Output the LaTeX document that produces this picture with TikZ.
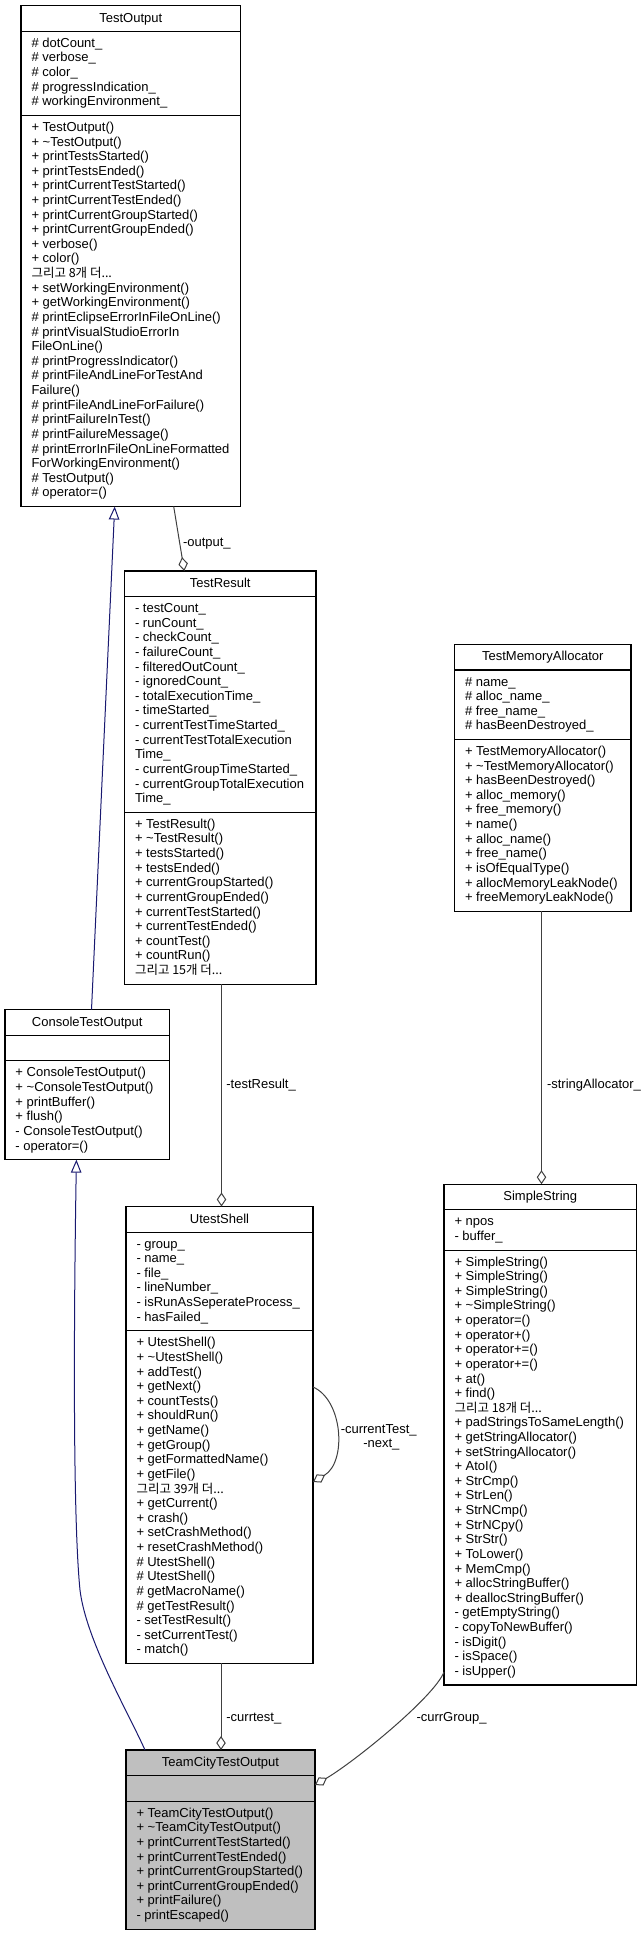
\documentclass[tikz,border=0pt]{standalone}
\usepackage{fontspec}
\setmainfont{Liberation Sans}
\newfontfamily\kr{Noto Sans CJK KR}
\usetikzlibrary{arrows.meta,calc}
\definecolor{edgegray}{HTML}{404040}
\definecolor{inhblue}{HTML}{191970}
\definecolor{hilite}{HTML}{BFBFBF}
\newcommand\more[1]{{\kr\fontsize{12.5}{14.62}\selectfont 그리고 #1개 더...}}
\newcommand\Lsk{14.62}
\newcommand\textlines[4]{\foreach \t [count=\i from 0] in {#4} {\node[txt] (#1-\i) at (#2,{#3+\i*\Lsk}) {\t};}}
\newcommand\umlbox[6]{%
  \node[box,#6,minimum width={#3-#2},minimum height=#5,anchor=north west] (#1) at (#2,#4) {};}
\newcommand\sepline[2]{\draw[sepl] ($(#1.north west)+(0,#2)$) -- ($(#1.north east)+(0,#2)$);}
\begin{document}
\begin{tikzpicture}[x=1pt,y=-1pt,
  txt/.style={anchor=base west,inner sep=0,outer sep=0,font=\fontsize{13}{14.62}\selectfont},
  ttl/.style={anchor=base,inner sep=0,outer sep=0,font=\fontsize{13}{14.62}\selectfont},
  box/.style={draw=black,line width=1.1pt,inner sep=0,outer sep=0,fill=white},
  sepl/.style={draw=black,line width=1.1pt},
  agg/.style={draw=edgegray,line width=1pt,-{Diamond[fill=white,length=14pt,width=9.5pt]}},
  inh/.style={draw=inhblue,line width=1pt,-{Triangle[fill=white,length=13pt,width=10.5pt]}}]
\useasboundingbox (0,0) rectangle (641,1935);

% ---------- TestOutput
\umlbox{TestOutput}{21}{240.5}{5.7}{500.82}{}
\sepline{TestOutput}{25.6}
\sepline{TestOutput}{109.7}
\node[ttl] (TestOutput-t) at (130.75,22.2) {TestOutput};
\textlines{TestOutput-a}{31.5}{47.3}{\# dotCount\_,\# verbose\_,\# color\_,\# progressIndication\_,\# workingEnvironment\_}
\textlines{TestOutput-m}{31.5}{131.4}{+ TestOutput(),+ \textasciitilde TestOutput(),+ printTestsStarted(),+ printTestsEnded(),+ printCurrentTestStarted(),+ printCurrentTestEnded(),+ printCurrentGroupStarted(),+ printCurrentGroupEnded(),+ verbose(),+ color(),\more{8},+ setWorkingEnvironment(),+ getWorkingEnvironment(),\# printEclipseErrorInFileOnLine(),\# printVisualStudioErrorIn,FileOnLine(),\# printProgressIndicator(),\# printFileAndLineForTestAnd,Failure(),\# printFileAndLineForFailure(),\# printFailureInTest(),\# printFailureMessage(),\# printErrorInFileOnLineFormatted,ForWorkingEnvironment(),\# TestOutput(),\# operator=()}

% ---------- TestResult
\umlbox{TestResult}{124.5}{316}{571}{413.1}{}
\sepline{TestResult}{25.6}
\sepline{TestResult}{241.28}
\node[ttl] (TestResult-t) at (220.25,587.5) {TestResult};
\textlines{TestResult-a}{135}{612.6}{- testCount\_,- runCount\_,- checkCount\_,- failureCount\_,- filteredOutCount\_,- ignoredCount\_,- totalExecutionTime\_,- timeStarted\_,- currentTestTimeStarted\_,- currentTestTotalExecution,Time\_,- currentGroupTimeStarted\_,- currentGroupTotalExecution,Time\_}
\textlines{TestResult-m}{135}{828.28}{+ TestResult(),+ \textasciitilde TestResult(),+ testsStarted(),+ testsEnded(),+ currentGroupStarted(),+ currentGroupEnded(),+ currentTestStarted(),+ currentTestEnded(),+ countTest(),+ countRun(),\more{15}}

% ---------- TestMemoryAllocator
\umlbox{TMA}{454.5}{631}{644.4}{266.9}{}
\sepline{TMA}{25.6}
\sepline{TMA}{95.08}
\node[ttl] (TMA-t) at (542.75,660.9) {TestMemoryAllocator};
\textlines{TMA-a}{465}{686}{\# name\_,\# alloc\_name\_,\# free\_name\_,\# hasBeenDestroyed\_}
\textlines{TMA-m}{465}{755.48}{+ TestMemoryAllocator(),+ \textasciitilde TestMemoryAllocator(),+ hasBeenDestroyed(),+ alloc\_memory(),+ free\_memory(),+ name(),+ alloc\_name(),+ free\_name(),+ isOfEqualType(),+ allocMemoryLeakNode(),+ freeMemoryLeakNode()}

% ---------- ConsoleTestOutput
\umlbox{Console}{5}{169.5}{1009.7}{149.94}{}
\sepline{Console}{25.6}
\sepline{Console}{51.22}
\node[ttl] (Console-t) at (87.25,1026.2) {ConsoleTestOutput};
\textlines{Console-m}{15.5}{1076.92}{+ ConsoleTestOutput(),+ \textasciitilde ConsoleTestOutput(),+ printBuffer(),+ flush(),- ConsoleTestOutput(),- operator=()}

% ---------- UtestShell
\umlbox{Utest}{126}{313}{1206.5}{456.96}{}
\sepline{Utest}{25.6}
\sepline{Utest}{124.32}
\node[ttl] (Utest-t) at (219.5,1223) {UtestShell};
\textlines{Utest-a}{136.5}{1248.1}{- group\_,- name\_,- file\_,- lineNumber\_,- isRunAsSeperateProcess\_,- hasFailed\_}
\textlines{Utest-m}{136.5}{1346.82}{+ UtestShell(),+ \textasciitilde UtestShell(),+ addTest(),+ getNext(),+ countTests(),+ shouldRun(),+ getName(),+ getGroup(),+ getFormattedName(),+ getFile(),\more{39},+ getCurrent(),+ crash(),+ setCrashMethod(),+ resetCrashMethod(),\# UtestShell(),\# UtestShell(),\# getMacroName(),\# getTestResult(),- setTestResult(),- setCurrentTest(),- match()}

% ---------- SimpleString
\umlbox{SString}{444}{636.5}{1184.2}{500.82}{}
\sepline{SString}{25.6}
\sepline{SString}{65.84}
\node[ttl] (SString-t) at (540.25,1200.7) {SimpleString};
\textlines{SString-a}{454.5}{1225.8}{+ npos,- buffer\_}
\textlines{SString-m}{454.5}{1266.04}{+ SimpleString(),+ SimpleString(),+ SimpleString(),+ \textasciitilde SimpleString(),+ operator=(),+ operator+(),+ operator+=(),+ operator+=(),+ at(),+ find(),\more{18},+ padStringsToSameLength(),+ getStringAllocator(),+ setStringAllocator(),+ AtoI(),+ StrCmp(),+ StrLen(),+ StrNCmp(),+ StrNCpy(),+ StrStr(),+ ToLower(),+ MemCmp(),+ allocStringBuffer(),+ deallocStringBuffer(),- getEmptyString(),- copyToNewBuffer(),- isDigit(),- isSpace(),- isUpper()}

% ---------- TeamCityTestOutput
\umlbox{TeamCity}{126}{315}{1750}{179.18}{fill=hilite}
\sepline{TeamCity}{25.6}
\sepline{TeamCity}{51.22}
\node[ttl] (TeamCity-t) at (220.5,1766.5) {TeamCityTestOutput};
\textlines{TeamCity-m}{136.5}{1817.22}{+ TeamCityTestOutput(),+ \textasciitilde TeamCityTestOutput(),+ printCurrentTestStarted(),+ printCurrentTestEnded(),+ printCurrentGroupStarted(),+ printCurrentGroupEnded(),+ printFailure(),- printEscaped()}

% ---------- connectors
\draw[agg] ($(TestOutput.south west)+(152.7,0)$) -- ($(TestResult.north west)+(59.8,0)$);
\node[txt] (l-output) at (183,546) {-output\_};

\draw[inh] ($(Console.north west)+(86.5,0)$) -- ($(TestOutput.south west)+(93.7,0)$);

\draw[agg] ($(TestResult.south west)+(97,0)$) -- ($(Utest.north west)+(95.5,0)$);
\node[txt] (l-testResult) at (226.4,1088) {-testResult\_};

\draw[agg] ($(TMA.south west)+(87,0)$) -- ($(SString.north west)+(97.5,0)$);
\node[txt] (l-stringAlloc) at (547,1088) {-stringAllocator\_};

\coordinate (bend1) at (80,1590);
\draw[inh] ($(TeamCity.north west)+(19,0)$) .. controls +(-17,-38) and +(6,50) .. (bend1)
  .. controls +(-8,-80) and +(-2,120) .. ($(Console.south west)+(71.4,0)$);

\draw[agg] ($(Utest.south west)+(95,0)$) -- ($(TeamCity.north west)+(95,0)$);
\node[txt] (l-currtest) at (226.4,1721) {-currtest\_};

\draw[agg] ($(SString.south west)+(0,-13)$) .. controls +(-10,25) and +(40.5,-24) .. ($(TeamCity.north east)+(0,35)$);
\node[txt] (l-currGroup) at (416.5,1721) {-currGroup\_};

\draw[agg] ($(Utest.north east)+(0,180.5)$) .. controls +(30,13) and +(34,-20) .. ($(Utest.north east)+(0,275.5)$);
\node[ttl] (l-self1) at (378.7,1433) {-currentTest\_};
\node[ttl] (l-self2) at (381.4,1447.6) {-next\_};
\end{tikzpicture}
\end{document}
